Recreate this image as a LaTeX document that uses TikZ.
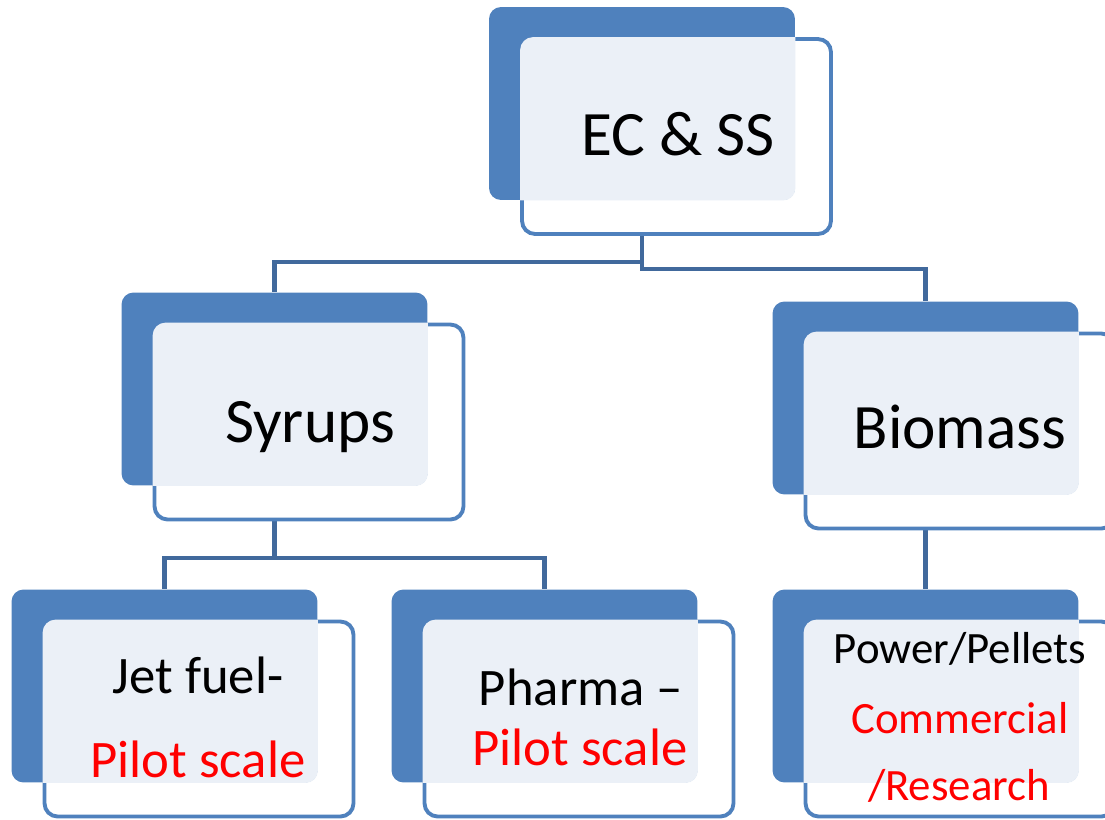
\documentclass[tikz,border=0pt]{standalone}
\usepackage{fontspec}
\setmainfont{Carlito}
\usepackage{xcolor}
\usetikzlibrary{positioning,calc}
\pgfdeclarelayer{bg}
\pgfsetlayers{bg,main}
\definecolor{boxblue}{HTML}{4F81BD}
\definecolor{boxlight}{HTML}{EBF0F7}
\definecolor{linkblue}{HTML}{41699C}
\definecolor{txtred}{HTML}{FF0000}

\begin{document}
\begin{tikzpicture}[x = 0.02cm, y = -0.02cm,
  back/.style = {fill = boxblue, rounded corners = 0.24cm, minimum width = 6.12cm, minimum height = 3.86cm, inner sep = 0pt},
  front/.style = {draw = boxblue, line width = 2.2pt, fill = white, rounded corners = 0.26cm, minimum width = 6.18cm, minimum height = 3.9cm, inner sep = 0pt},
  link/.style = {draw = linkblue, line width = 2.3pt},
  big/.style = {font = \fontsize{36}{40}\selectfont, anchor = base},
  mid/.style = {font = \fontsize{30}{34}\selectfont, anchor = base},
  small/.style = {font = \fontsize{25.5}{29}\selectfont, anchor = base}]
\useasboundingbox (0,0) rectangle (1105,819);
\foreach \n/\x/\y in {ec/642/103.5, syr/274.5/389, bio/925.5/398, jet/164.5/686, pha/544.5/686, pow/925.5/686} {
  \node[front] (f\n) at (\x+34.5,\y+33) {};
  \node[back] (\n) at (\x,\y) {};
  \begin{scope}
    \clip[rounded corners = 0.24cm] (\n.south west) rectangle (\n.north east);
    \fill[boxlight, rounded corners = 0.26cm] (f\n.south west) rectangle (f\n.north east);
  \end{scope}
}
\begin{pgfonlayer}{bg}
\draw[link] (ec) -- ++(0,158.5) -| (syr);
\draw[link] (ec) -- ++(0,165.5) -| (bio);
\draw[link] (syr) -- ++(0,169) coordinate (syrsplit) -| (jet);
\draw[link] (syrsplit) -| (pha);
\draw[link] (bio) -- (pow);
\end{pgfonlayer}
\node[big] (ect) at (678,155) {EC \& SS};
\node[big] (syrt) at (310,442) {Syrups};
\node[big] (biot) at (960,448) {Biomass};
\node[mid] (jett) at (198,693) {Jet fuel-};
\node[mid, text = txtred] (jetr) at (198,777) {Pilot scale};
\node[mid] (phat) at (581,705) {Pharma –};
\node[mid, text = txtred] (phar) at (580,765) {Pilot scale};
\node[small] (powt) at (960,663) {Power/Pellets};
\node[small, text = txtred] (powr) at (960,733) {Commercial};
\node[small, text = txtred] (powr2) at (959,800) {/Research};
\end{tikzpicture}
\end{document}
